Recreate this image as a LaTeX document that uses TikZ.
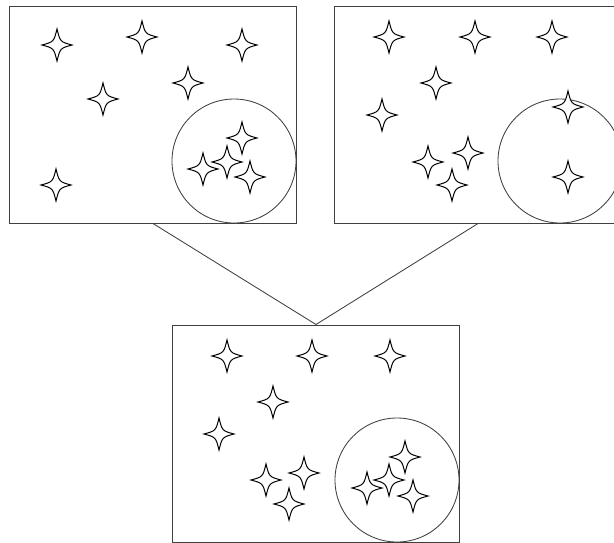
\documentclass[tikz,border=0pt]{standalone}
\begin{document}
\begin{tikzpicture}[x=1pt,y=-1pt,
  panel/.style={draw=black!75,line width=1pt,minimum width=287pt,minimum height=217pt,inner sep=0pt},
  lens/.style={draw=black!75,line width=0.85pt,circle,minimum size=124pt,inner sep=0pt},
  link/.style={draw=black!75,line width=0.85pt},
  sparkle/.pic={
    \draw[line width=1pt,black,fill=white,line join=miter]
      (0,-16) .. controls (3.2,-3.2) .. (15,0)
              .. controls (3.2,3.2) .. (0,16)
              .. controls (-3.2,3.2) .. (-15,0)
              .. controls (-3.2,-3.2) .. cycle;
  }]
\useasboundingbox (0,0) rectangle (614,542);
\fill[white] (0,0) rectangle (614,542);

% three panels
\node[panel] (p1) at (153,114.5) {};
\node[panel] (p2) at (478,114.5) {};
\node[panel] (p3) at (316,433.5) {};

% merge connectors
\draw[link] (p1.south) -- (p3.north);
\draw[link] (p2.south) -- (p3.north);

% cluster circles
\node[lens] (c1) at (234,161) {};
\node[lens] (c2) at (560,161) {};
\node[lens] (c3) at (397,480) {};

% points in the first panel
\foreach \x/\y in {57/45,142/37,242/45,188/83,103/99,242/138,227/162,203/169,250/177,56/185}
  \pic at (\x,\y) {sparkle};

% points in the second panel
\foreach \x/\y in {389/37,475/37,552/37,436/83,382/115,568/107,468/153,428/162,452/185,568/177}
  \pic at (\x,\y) {sparkle};

% points in the merged panel
\foreach \x/\y in {227/356,312/356,390/356,273/402,219/434,304/473,266/480,289/504,405/457,389/480,367/488,413/496}
  \pic at (\x,\y) {sparkle};
\end{tikzpicture}
\end{document}
